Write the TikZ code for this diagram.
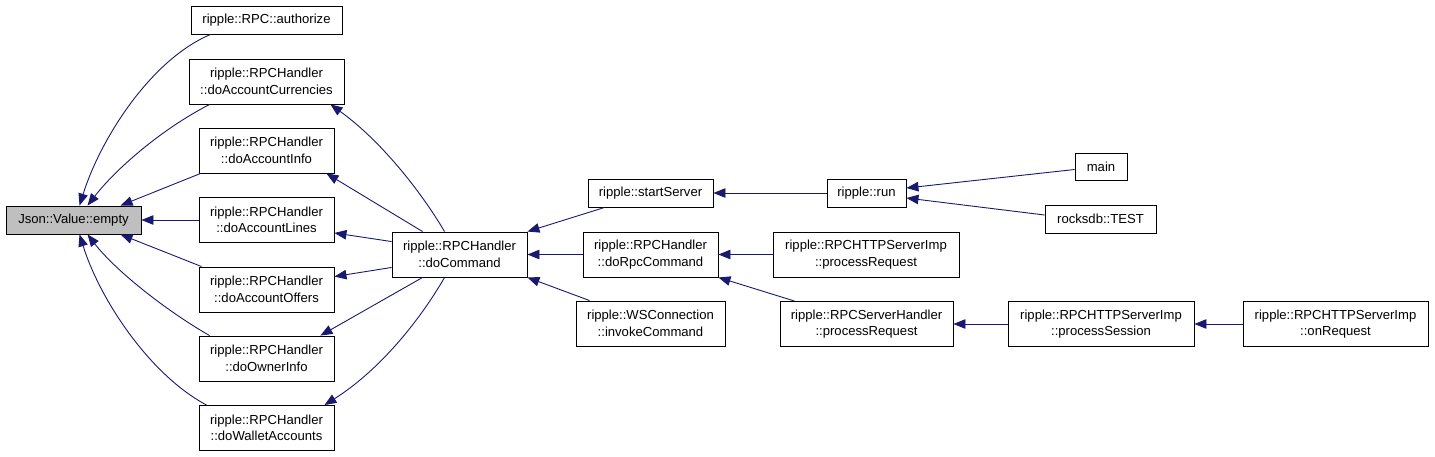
\documentclass[tikz,border=0pt]{standalone}
\usepackage{fontspec}
\setmainfont{Liberation Sans}
\usetikzlibrary{arrows.meta}
\definecolor{edgec}{HTML}{191970}
\definecolor{hl}{HTML}{BFBFBF}
\begin{document}
\begin{tikzpicture}[x=1pt,y=-1pt,
  fn/.style={draw=black,line width=0.9pt,inner sep=0pt,align=center,
    font=\fontsize{13.1}{16.5}\selectfont},
  one/.style={fn,minimum height=28pt},
  two/.style={fn,minimum height=45pt},
  edge/.style={draw=edgec,line width=0.9pt,-{Triangle[length=12pt,width=9.5pt]}}]
\useasboundingbox (0,0) rectangle (1435,456);
% nodes
\node[one,fill=hl,minimum width=135pt] (empty) at (73.5,220) {Json::Value::empty};
\node[one,minimum width=151pt] (auth) at (266.5,20) {ripple::RPC::authorize};
\node[two,minimum width=155pt] (cur) at (266.5,81.5) {ripple::RPCHandler\\::doAccountCurrencies};
\node[two,minimum width=135pt] (info) at (266.5,150.5) {ripple::RPCHandler\\::doAccountInfo};
\node[two,minimum width=135pt] (lines) at (266.5,220) {ripple::RPCHandler\\::doAccountLines};
\node[two,minimum width=135pt] (offers) at (266.5,289.5) {ripple::RPCHandler\\::doAccountOffers};
\node[two,minimum width=135pt] (owner) at (266.5,358.5) {ripple::RPCHandler\\::doOwnerInfo};
\node[two,minimum width=135pt] (wallet) at (266.5,428) {ripple::RPCHandler\\::doWalletAccounts};
\node[two,minimum width=135pt] (cmd) at (459.5,254.5) {ripple::RPCHandler\\::doCommand};
\node[one,minimum width=125pt] (start) at (650.5,193) {ripple::startServer};
\node[two,minimum width=135pt] (rpc) at (650.5,254.5) {ripple::RPCHandler\\::doRpcCommand};
\node[two,minimum width=149pt] (ws) at (650.5,323.5) {ripple::WSConnection\\::invokeCommand};
\node[one,minimum width=79pt] (run) at (866.5,193) {ripple::run};
\node[one,minimum width=52pt,minimum height=27pt] (main) at (1101,166.5) {main};
\node[one,minimum width=111pt] (test) at (1100.5,219) {rocksdb::TEST};
\node[two,minimum width=186pt] (http) at (866,254.5) {ripple::RPCHTTPServerImp\\::processRequest};
\node[two,minimum width=173pt] (rsh) at (866.5,324) {ripple::RPCServerHandler\\::processRequest};
\node[two,minimum width=186pt] (ps) at (1101,324) {ripple::RPCHTTPServerImp\\::processSession};
\node[two,minimum width=185pt] (onr) at (1335.5,324) {ripple::RPCHTTPServerImp\\::onRequest};
% edges to empty
\draw[edge] ([xshift=20pt]auth.south west) .. controls (150,60) and (100,140) .. ([xshift=74pt]empty.north west);
\draw[edge] ([xshift=21pt]cur.south west) .. controls (160,130) and (115,170) .. ([xshift=82pt]empty.north west);
\draw[edge] ([xshift=2pt]info.south west) -- ([xshift=115pt]empty.north west);
\draw[edge] (lines.west) -- (empty.east);
\draw[edge] ([xshift=3pt]offers.north west) -- ([xshift=115pt]empty.south west);
\draw[edge] ([xshift=11pt]owner.north west) .. controls (165,310) and (115,270) .. ([xshift=82pt]empty.south west);
\draw[edge] ([xshift=8pt]wallet.north west) .. controls (150,375) and (100,300) .. ([xshift=74pt]empty.south west);
% edges from doCommand
\draw[edge] ([xshift=53pt]cmd.north west) .. controls (420,190) and (380,140) .. ([xshift=-14pt]cur.south east);
\draw[edge] ([xshift=31pt]cmd.north west) -- ([xshift=-8pt]info.south east);
\draw[edge] ([yshift=-10pt]cmd.north west) -- ([yshift=10pt]lines.south east);
\draw[edge] ([yshift=10pt]cmd.south west) -- ([yshift=-10pt]offers.north east);
\draw[edge] ([xshift=31pt]cmd.south west) -- ([xshift=-14pt]owner.north east);
\draw[edge] ([xshift=53pt]cmd.south west) .. controls (420,320) and (380,370) .. ([xshift=-10pt]wallet.north east);
% right side
\draw[edge] ([xshift=17pt]start.south west) -- (cmd.north east);
\draw[edge] (rpc.west) -- (cmd.east);
\draw[edge] ([xshift=14pt]ws.north west) -- (cmd.south east);
\draw[edge] (run.west) -- (start.east);
\draw[edge] ([yshift=-3pt]main.west) -- ([yshift=5pt]run.east);
\draw[edge] ([yshift=4pt]test.west) -- ([yshift=-5pt]run.east);
\draw[edge] (http.west) -- (rpc.east);
\draw[edge] ([xshift=15pt]rsh.north west) -- (rpc.south east);
\draw[edge] (ps.west) -- (rsh.east);
\draw[edge] (onr.west) -- (ps.east);
\end{tikzpicture}
\end{document}
